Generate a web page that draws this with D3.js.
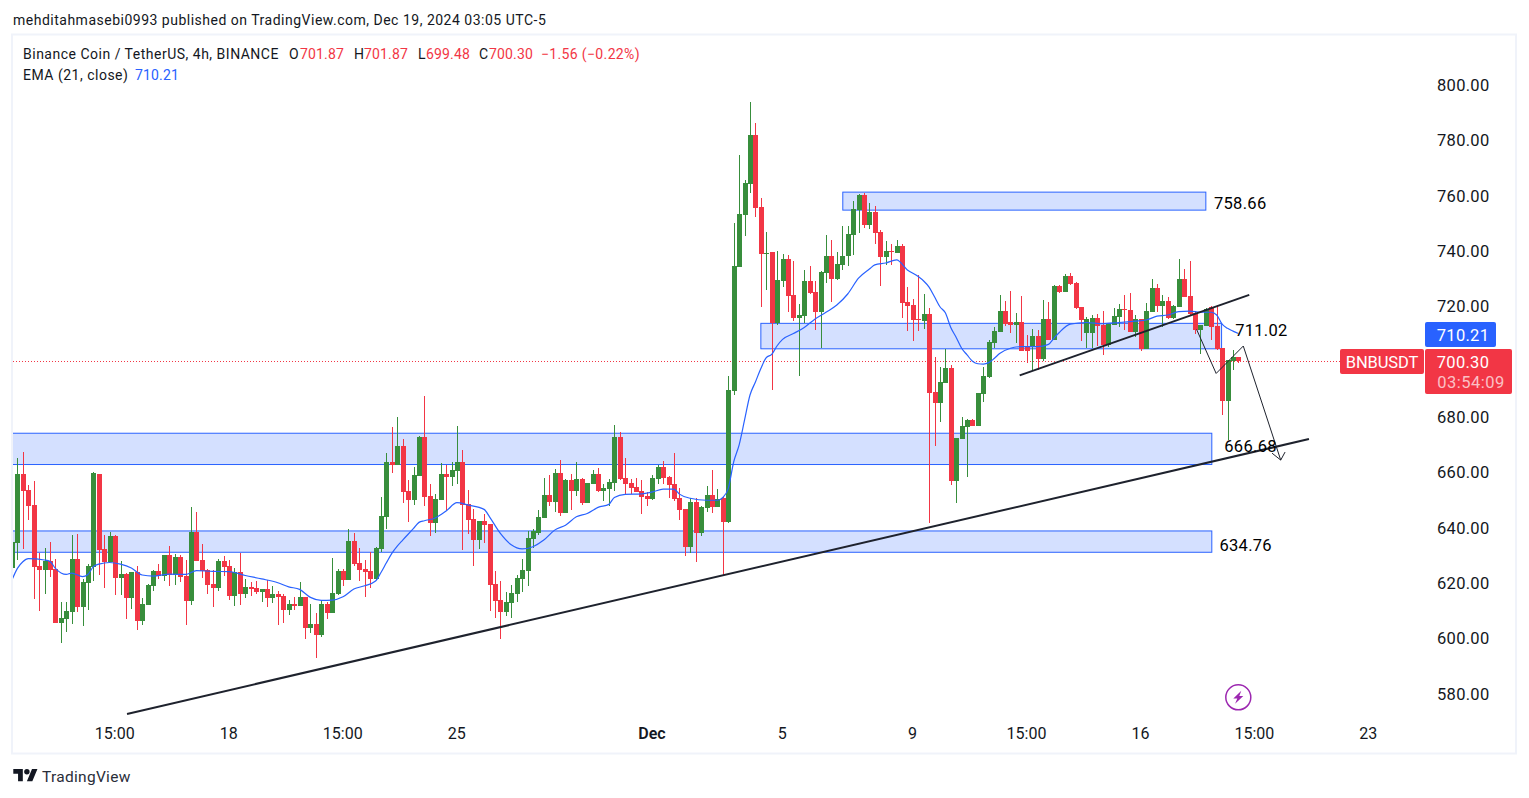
<!DOCTYPE html>
<html>
<head>
<meta charset="utf-8">
<script src="https://d3js.org/d3.v7.min.js"></script>
<style>
  html, body { margin: 0; background: #fff; }
  svg { display: block; font-family: Roboto, sans-serif; }
  text { fill: #131722; }
</style>
</head>
<body>
<svg width="1529" height="798"></svg>
<script>
// candles, array position 0 is the sliver cut off at the left edge (bar -1)
const opens = [625.4,
  634.6,659.4,653.7,648.3,626.2,624.8,628.0,625.1,605.6,607.1,
  609.6,628.7,611.4,620.1,625.9,659.4,632.4,627.7,637.0,621.9,
  623.3,614.7,624.0,606.3,612.1,619.0,624.4,622.6,630.2,623.0,
  629.5,622.6,613.6,638.7,628.4,624.8,619.7,618.3,628.0,626.2,
  615.4,624.0,616.1,618.6,618.3,616.8,617.9,614.7,616.1,615.4,
  610.3,612.5,611.8,615.0,603.8,605.3,601.3,612.5,609.2,616.1,
  624.4,621.2,635.2,627.3,625.1,624.4,621.5,632.4,643.9,663.8,
  662.7,669.6,653.3,650.0,658.7,672.8,651.5,641.7,650.0,659.5,
  658.4,660.5,663.8,648.6,643.2,635.6,642.5,641.4,619.7,613.9,
  609.6,612.8,616.1,621.5,624.4,636.0,638.1,643.6,651.9,649.3,
  659.8,645.4,657.3,653.3,657.6,649.0,655.8,659.4,653.3,654.0,
  656.2,672.8,658.0,656.2,654.8,653.3,651.5,650.4,657.6,662.0,
  658.4,655.8,650.8,646.8,633.1,649.3,638.1,647.2,651.9,647.5,
  650.8,642.1,689.5,734.2,753.0,764.2,781.9,755.9,738.9,739.7,
  714.0,729.2,737.1,724.1,715.8,716.5,729.2,725.2,718.0,732.1,
  738.2,729.9,735.0,738.2,745.8,754.8,760.3,749.4,754.1,746.9,
  737.9,740.0,739.3,741.8,721.6,720.5,715.5,714.7,717.3,689.1,
  685.1,692.3,697.8,656.9,672.1,676.4,679.0,676.8,688.4,694.5,
  706.8,710.8,718.3,714.4,713.3,714.4,705.7,705.3,709.3,701.0,
  715.5,707.9,727.4,725.2,731.0,728.5,719.8,710.4,710.4,715.8,
  713.3,706.1,713.3,716.2,719.1,718.7,710.8,715.5,704.6,718.0,
  726.7,720.1,722.0,715.8,719.8,729.9,723.8,717.6,711.5,712.9,
  719.8,712.9,705.0,685.8,700.3,701.87];
const highs = [634.8,
  665.1,667.4,655.5,656.9,630.8,632.6,634.8,628.7,613.2,613.2,
  637.4,637.8,621.5,626.9,660.2,659.4,637.4,638.6,637.4,628.0,
  623.7,624.0,626.2,614.7,619.7,624.8,626.9,630.2,633.4,630.6,
  630.2,628.4,647.5,645.7,634.2,625.1,624.8,628.7,629.8,628.4,
  625.5,630.9,621.5,620.4,620.8,617.9,621.2,619.0,617.2,616.1,
  613.9,615.0,620.4,615.0,612.5,609.2,613.6,613.2,629.1,625.1,
  625.1,639.6,638.1,632.7,628.4,631.3,633.1,651.1,667.0,676.4,
  680.0,672.1,657.3,662.0,673.2,687.6,655.8,652.2,663.4,662.8,
  663.8,676.8,668.1,653.7,646.8,642.5,645.0,641.4,624.4,620.8,
  616.8,619.3,623.0,628.7,638.9,639.6,646.4,658.0,659.1,661.3,
  664.5,657.6,659.4,663.8,658.0,656.2,660.9,661.6,655.8,657.6,
  677.2,674.6,665.2,657.6,658.0,657.3,653.0,659.1,662.7,664.1,
  658.7,667.0,654.4,646.8,650.8,650.8,647.9,655.1,660.9,654.0,
  651.1,694.9,750.1,774.7,765.7,793.9,786.3,759.2,746.9,739.7,
  740.0,738.9,738.6,736.4,720.9,733.2,734.6,729.2,732.8,745.8,
  744.0,739.7,749.1,749.1,758.1,760.6,761.0,757.4,756.3,747.6,
  743.6,742.6,744.0,742.6,727.0,722.7,731.4,724.5,719.4,701.8,
  698.1,704.6,698.8,672.5,680.0,679.3,679.3,688.7,698.1,707.9,
  712.6,724.1,722.0,725.6,717.6,723.8,709.7,711.8,711.5,722.3,
  721.6,727.7,727.7,731.7,732.1,728.8,719.8,716.2,716.9,717.3,
  718.3,713.6,719.4,720.9,724.1,724.8,716.9,715.5,721.2,729.9,
  728.1,724.1,723.4,720.5,737.1,733.5,736.4,718.3,713.3,719.4,
  720.1,720.5,705.0,700.6,704.3,701.87];
const lows = [625.0,
  628.4,632.4,642.8,614.3,610.0,616.1,622.2,605.6,598.4,602.4,
  605.3,609.6,604.5,610.3,620.8,623.0,618.3,627.7,615.7,615.7,
  607.1,610.7,603.1,604.9,612.1,617.2,621.5,620.8,619.0,619.3,
  620.4,604.9,612.1,628.0,621.9,616.1,611.4,617.2,622.6,613.9,
  611.8,612.1,614.7,615.4,616.1,613.2,611.4,612.9,604.9,605.6,
  608.5,610.3,611.8,599.8,602.0,593.0,600.6,607.1,609.2,615.7,
  619.0,621.2,626.2,620.8,615.0,618.3,621.2,631.3,639.6,659.8,
  662.7,649.0,642.1,648.3,658.7,647.9,637.0,638.1,650.0,646.4,
  655.1,655.8,632.0,637.8,626.2,632.4,634.5,610.0,607.4,599.8,
  608.1,607.4,613.2,616.8,619.0,632.7,637.4,643.6,647.9,645.7,
  644.3,645.4,646.4,651.5,648.3,649.0,655.8,652.9,649.7,647.9,
  653.3,657.3,652.2,652.2,653.0,645.0,647.9,650.0,655.8,655.8,
  650.8,649.7,642.8,629.8,630.9,627.7,637.0,645.7,645.4,647.5,
  622.6,641.8,688.0,734.2,745.4,761.0,752.3,719.8,725.9,689.8,
  713.3,727.0,718.0,714.7,694.9,714.0,724.5,711.5,704.9,728.5,
  721.6,729.6,733.2,734.6,738.6,746.5,748.3,748.0,742.6,727.4,
  735.0,735.0,739.3,715.8,711.1,707.5,711.1,711.9,641.6,669.6,
  678.2,692.3,655.5,649.0,672.1,658.4,676.8,676.8,685.5,694.1,
  705.0,710.8,712.9,710.4,706.8,703.9,699.6,696.7,697.0,700.3,
  707.9,707.9,724.8,725.2,727.7,719.1,707.5,704.9,705.0,705.7,
  702.4,705.3,713.3,712.6,711.5,710.8,709.1,703.9,704.6,718.0,
  718.0,712.6,715.5,715.5,719.8,723.4,716.5,710.0,702.8,712.9,
  707.9,704.2,680.8,671.7,697.0,699.48];
const closes = [634.8,
  659.4,653.3,647.9,625.9,624.8,628.0,624.8,605.6,607.4,610.0,
  628.7,611.4,620.4,626.2,659.8,632.0,627.7,637.0,621.9,623.3,
  614.7,624.0,606.3,612.5,619.3,624.4,622.6,630.2,623.0,629.5,
  622.2,613.6,638.7,628.0,624.4,619.3,618.3,628.0,625.9,615.4,
  624.0,616.1,618.6,617.9,616.8,617.9,614.7,616.1,615.0,610.3,
  612.5,611.8,615.0,603.8,605.3,601.3,612.5,609.2,616.5,624.4,
  621.2,635.2,626.9,624.8,624.0,621.5,632.7,644.3,663.8,662.7,
  669.6,652.9,650.0,659.1,672.8,651.1,641.7,650.4,659.5,658.4,
  660.9,663.8,648.3,642.8,635.6,642.5,641.0,619.3,613.6,609.6,
  613.2,616.5,621.9,624.8,636.3,638.9,643.9,651.9,649.3,659.8,
  645.4,657.3,653.3,657.6,649.0,656.2,659.4,653.3,654.4,656.6,
  672.8,657.6,655.8,654.4,653.0,651.1,650.4,658.0,662.0,658.0,
  655.5,650.4,646.4,633.1,649.3,638.1,647.5,651.9,647.5,650.4,
  642.1,689.8,734.6,753.4,764.6,781.9,755.6,738.9,739.3,714.0,
  729.6,737.1,723.8,715.8,716.9,729.2,724.9,718.0,732.4,738.2,
  729.9,735.3,738.2,746.2,755.2,760.3,749.4,754.1,746.5,737.9,
  740.0,739.8,741.8,721.2,720.2,715.1,715.1,717.3,688.7,685.1,
  692.7,697.8,656.9,672.5,676.8,679.0,676.8,688.7,694.9,707.1,
  711.1,718.3,713.6,713.3,714.4,703.9,703.9,709.3,701.0,715.5,
  707.9,727.4,725.2,731.0,728.1,719.4,715.1,715.5,715.8,712.9,
  706.1,713.6,716.5,719.1,718.7,710.8,715.5,704.6,718.3,726.7,
  720.1,722.0,715.8,720.1,729.9,723.4,717.3,711.5,713.3,719.1,
  712.6,704.6,685.8,700.6,701.7,700.30];

// EMA 21 at these bars
const emaBars = [-1,0,1,2,5,6,7,9,10,12,13,14,15,17,19,21,23,25,28,31,33,36,39,42,45,48,50,52,54,56,58,60,62,64,
  66,67,68,69,70,71,73,74,75,77,79,81,83,86,87,89,91,93,95,97,99,101,103,105,107,109,110,112,115,117,119,121,122,124,127,129,130,131,
  132,133,134,135,136,137,138,139,140,141,143,145,147,149,151,153,155,157,158,160,162,164,166,167,168,169,170,171,172,173,174,175,176,
  177,178,179,180,181,183,185,188,190,191,192,194,197,200,203,206,208,210,212,214,216,218,220,221,222,223,224,225];
const emaValues = [621.2,625.4,627.8,628.9,628.4,627.9,625.4,623.2,623.7,622.4,623.2,626.0,626.9,627.5,626.9,625.5,623.0,622.6,623.3,623.2,624.6,624.3,624.2,622.8,621.6,620.2,618.7,617.8,614.9,613.8,613.9,615.1,617.9,619.1,
  620.8,623.9,627.4,630.8,633.4,635.6,639.8,642.0,642.6,643.6,646.1,649.1,648.3,646.7,644.0,638.0,633.9,632.4,633.2,635.6,639.2,641.0,644.0,645.2,647.4,648.5,651.0,652.1,652.3,653.0,654.0,654.0,652.2,650.7,650.0,650.0,651.0,654.3,
  663.9,670.0,679.0,688.0,692.7,697.6,701.5,702.7,705.8,708.1,710.2,712.4,715.5,717.9,720.5,724.5,730.2,733.5,735.0,735.7,736.8,733.2,730.8,729.2,727.0,723.5,719.9,717.7,712.4,708.8,704.9,702.5,700.2,
  699.3,699.2,699.7,701.2,703.0,704.9,705.5,705.5,706.3,708.5,710.6,713.6,714.2,713.8,714.2,714.7,715.1,716.5,716.9,718.1,718.3,717.9,717.9,716.9,713.6,712.1,711.1,710.21];

// drawn zones as [left bar, right bar, top price, bottom price]
const zones = [
  [152.1, 219, 761.3, 754.8],
  [137, 221.9, 713.9, 704.7],
  [-2, 220.1, 674.2, 662.9],
  [-2, 220.1, 638.9, 631.2]
];
const zoneLabels = ["758.66", "711.02", "666.68", "634.76"];
const zoneLabelBars = [220.5, 224.4, 222.4, 221.5];
const zoneLabelPrices = [757.2, 711.4, 669.4, 633.5];

// trend lines and the projected path, [bar, price]
const mainTrend = [[20.2, 572.8], [238, 672.1]];
const shortTrend = [[184.7, 695.1], [227, 724.2]];
const pathPoints = [[217.3, 711.7], [220.9, 695.8], [225.9, 705.7], [232.8, 664.5]];
const arrowWings = [[231.2, 667.0], [232.8, 664.5], [233.6, 667.4]];

const priceTicks = [800, 780, 760, 740, 720, 700, 680, 660, 640, 620, 600, 580];
const timeBars = [18, 39, 60, 81, 117, 141, 165, 186, 207, 228, 249];
const timeLabels = ["15:00", "18", "15:00", "25", "Dec", "5", "9", "15:00", "16", "15:00", "23"];

const red = "#f23645", green = "#388e3c", blue = "#2962ff", ink = "#131722", drawn = "#1e222d";

const svg = d3.select("svg");
const x = d3.scaleLinear().domain([0, 225]).range([17.4, 1238.4]);
const y = d3.scaleLinear().domain([800, 580]).range([85, 694]);

// header
svg.append("text").attr("x", 13).attr("y", 24.5).attr("font-size", 14).attr("letter-spacing", 0.5)
  .text("mehditahmasebi0993 published on TradingView.com, Dec 19, 2024 03:05 UTC-5");

// pane border
svg.append("rect").attr("x", 12).attr("y", 34.5).attr("width", 1504).attr("height", 719)
  .attr("fill", "none").attr("stroke", "#f0f3fa").attr("stroke-width", 2);

svg.append("clipPath").attr("id", "pane").append("rect")
  .attr("x", 13).attr("y", 35).attr("width", 1502).attr("height", 718);
const pane = svg.append("g").attr("clip-path", "url(#pane)");

// zones sit behind the candles
pane.selectAll("rect.zone").data(zones).join("rect")
  .attr("class", "zone")
  .attr("x", d => x(d[0])).attr("y", d => y(d[2]))
  .attr("width", d => x(d[1]) - x(d[0])).attr("height", d => y(d[3]) - y(d[2]))
  .attr("fill", blue).attr("fill-opacity", 0.2)
  .attr("stroke", blue).attr("stroke-width", 1);

// price line of the last close
pane.append("line")
  .attr("x1", 13).attr("x2", 1340)
  .attr("y1", Math.round(y(closes[closes.length - 1])) + 0.5).attr("y2", Math.round(y(closes[closes.length - 1])) + 0.5)
  .attr("stroke", red).attr("stroke-width", 1).attr("stroke-dasharray", "1 2");

// candles
const candles = pane.append("g").selectAll("g").data(d3.range(opens.length)).join("g")
  .attr("fill", i => closes[i] >= opens[i] ? green : red)
  .attr("shape-rendering", "crispEdges");
candles.append("rect")
  .attr("x", i => Math.round(x(i - 1)))
  .attr("width", 1)
  .attr("y", i => y(highs[i]))
  .attr("height", i => y(lows[i]) - y(highs[i]));
candles.append("rect")
  .attr("x", i => Math.round(x(i - 1)) - 2)
  .attr("width", 5)
  .attr("y", i => y(Math.max(opens[i], closes[i])))
  .attr("height", i => Math.max(1, Math.abs(y(opens[i]) - y(closes[i]))));

// EMA
const emaLine = d3.line().x(d => x(d[0])).y(d => y(d[1])).curve(d3.curveMonotoneX);
pane.append("path")
  .datum(d3.zip(emaBars, emaValues))
  .attr("d", emaLine)
  .attr("fill", "none").attr("stroke", blue).attr("stroke-width", 1.2);

// drawings
const straight = d3.line().x(d => x(d[0])).y(d => y(d[1]));
[mainTrend, shortTrend].forEach(pts => {
  pane.append("path").attr("d", straight(pts)).attr("fill", "none").attr("stroke", drawn).attr("stroke-width", 2);
});
[pathPoints, arrowWings].forEach(pts => {
  pane.append("path").attr("d", straight(pts)).attr("fill", "none").attr("stroke", drawn).attr("stroke-width", 1);
});

pane.selectAll("text.zone-label").data(zoneLabels).join("text")
  .attr("class", "zone-label")
  .attr("x", (d, i) => x(zoneLabelBars[i]))
  .attr("y", (d, i) => y(zoneLabelPrices[i]))
  .attr("font-size", 16.5).attr("letter-spacing", 0.3)
  .attr("dominant-baseline", "central")
  .style("fill", "#000")
  .text(d => d);

// axes
const yAxis = svg.append("g").attr("transform", "translate(1437,0)")
  .call(d3.axisRight(y).tickValues(priceTicks).tickSize(0).tickPadding(0).tickFormat(d3.format(".2f")));
yAxis.select(".domain").remove();
yAxis.selectAll("text").attr("font-size", 16.5).attr("font-family", "Roboto, sans-serif").attr("letter-spacing", 0.3).style("fill", ink);

const xAxis = svg.append("g").attr("transform", "translate(-0.8,727)")
  .call(d3.axisBottom(x).tickValues(timeBars).tickSize(0).tickPadding(0).tickFormat((d, i) => timeLabels[i]));
xAxis.select(".domain").remove();
xAxis.selectAll("text").attr("dy", "0.75em").attr("font-size", 16).attr("font-family", "Roboto, sans-serif")
  .attr("font-weight", (d, i) => timeLabels[i] === "Dec" ? 600 : 400).style("fill", ink);

// legend rows
function row(yPos, parts) {
  parts.forEach(p => {
    svg.append("text").attr("x", p[0]).attr("y", yPos).attr("font-size", 14)
      .attr("letter-spacing", p[3] === undefined ? 0.5 : p[3]).style("fill", p[2] || ink).text(p[1]);
  });
}
row(59, [[23, "Binance Coin / TetherUS, 4h, BINANCE"], [289, "O"], [300, "701.87", red, 0.15], [354, "H"], [364, "701.87", red, 0.15],
  [418, "L"], [426, "699.48", red, 0.15], [479, "C"], [489, "700.30", red, 0.15], [541, "\u22121.56 (\u22120.22%)", red, 0.35]]);
row(80, [[23, "EMA (21, close)"], [135, "710.21", blue, 0.15]]);

// price scale labels
function tag(left, top, w, h) {
  return svg.append("rect").attr("x", left).attr("y", top).attr("width", w).attr("height", h).attr("rx", 2);
}
tag(1425, 322, 71, 25).attr("fill", blue);
tag(1340, 349, 84, 25).attr("fill", red);
tag(1425, 349, 87, 45).attr("fill", red);
function tagText(cx, cy, s, op, spacing) {
  svg.append("text").attr("x", cx).attr("y", cy).attr("text-anchor", "middle").attr("dominant-baseline", "central")
    .attr("font-size", 16.5).attr("letter-spacing", spacing).style("fill", "#fff").style("fill-opacity", op).text(s);
}
tagText(1463, 335, "710.21", 1, 0.3);
tagText(1382, 362, "BNBUSDT", 1, -0.1);
tagText(1463, 362, "700.30", 1, 0.3);
tagText(1471, 382, "03:54:09", 0.7, 0.5);

// lightning badge
const badge = svg.append("g").attr("transform", "translate(1238.3,697.3)");
badge.append("circle").attr("r", 12.5).attr("fill", "#fff").attr("stroke", "#9c27b0").attr("stroke-width", 1.5);
badge.append("path").attr("d", "M3-6.5L-5 1.2H-1L-3.2 6.5L5-1.2H1Z").attr("fill", "#9c27b0");

// footer logo
const logo = svg.append("g").attr("transform", "translate(13.3,766.3) scale(0.68)");
logo.append("path").attr("d", "M14 22H7V11H0V4h14v18zM28 22h-8l7.5-18h8L28 22z").attr("fill", ink);
logo.append("circle").attr("cx", 20).attr("cy", 8).attr("r", 4).attr("fill", ink);
svg.append("text").attr("x", 42).attr("y", 781.5).attr("font-size", 15.5).attr("letter-spacing", 0.3).style("fill", "#2a2e39").text("TradingView");
</script>
</body>
</html>
